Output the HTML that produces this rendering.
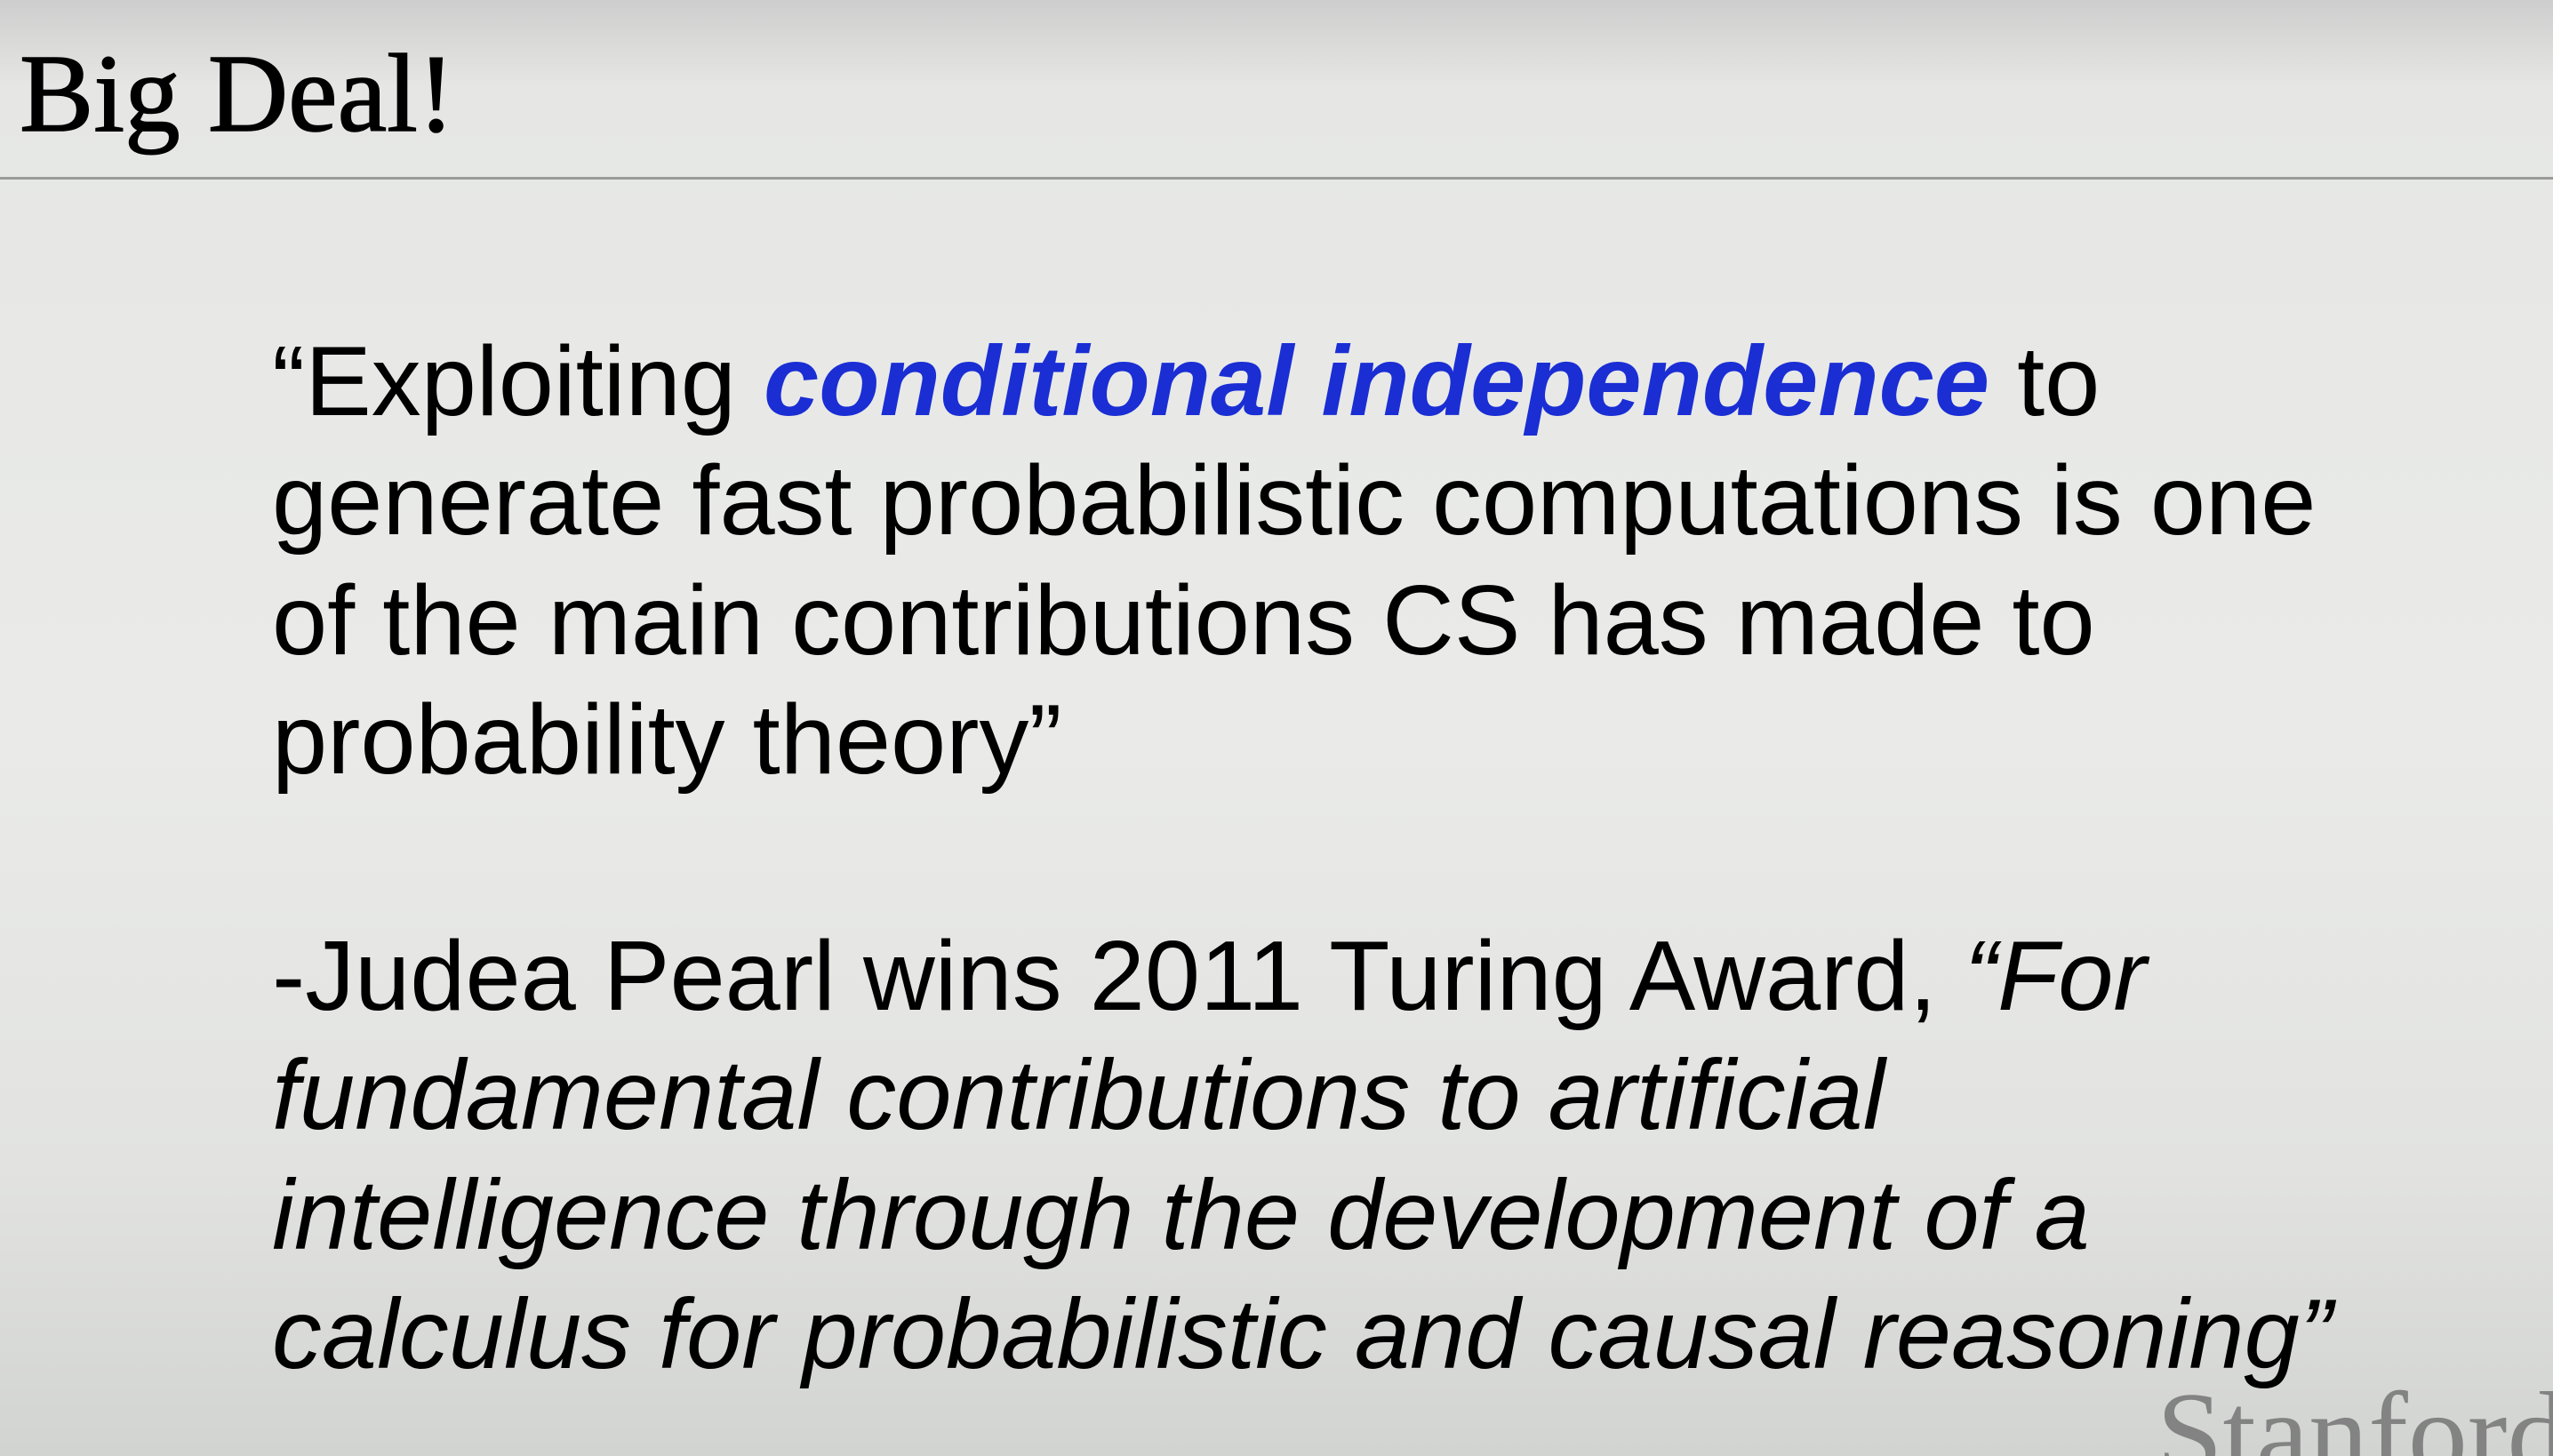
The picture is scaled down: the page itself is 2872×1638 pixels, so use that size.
<!DOCTYPE html>
<html><head><meta charset="utf-8"><style>
html,body{margin:0;padding:0;width:2872px;height:1638px;overflow:hidden;background:#e9eae8}
svg{display:block;overflow:hidden}
.b{font-family:"Liberation Sans",Arial,sans-serif;fill:#000}
</style></head><body>
<svg id="s" width="2872" height="1638" viewBox="0 0 2872 1638">
<defs>
<linearGradient id="g" x1="0" y1="0" x2="0" y2="1">
<stop offset="0" stop-color="#cdcecd"/><stop offset="0.06" stop-color="#e6e7e5"/>
<stop offset="0.5" stop-color="#eaebe9"/><stop offset="0.8" stop-color="#e2e3e1"/><stop offset="1" stop-color="#d2d4d2"/>
</linearGradient>
<clipPath id="c"><rect width="2872" height="1638"/></clipPath>
</defs>
<rect width="2872" height="1638" fill="url(#g)"/>
<text x="22" y="147" font-family="'Liberation Serif',serif" font-size="125" fill="#000" stroke="#000" stroke-width="1.5">Big Deal!</text>
<rect x="0" y="199" width="2872" height="3" fill="#9a9b9a"/>
<g id="body" class="b" font-size="100">
<text x="306" y="467">“Exploiting <tspan fill="#1a2ed4" font-weight="bold" font-style="italic">conditional independence</tspan> to</text>
<text id="ref" x="306" y="601">generate fast probabilistic computations is one</text>
<text x="306" y="736">of the main contributions CS has made to</text>
<text x="306" y="870">probability theory”</text>
<text x="306" y="1136">-Judea Pearl wins 2011 Turing Award, <tspan font-style="italic">“For</tspan></text>
<text x="306" y="1270" font-style="italic">fundamental contributions to artificial</text>
<text x="306" y="1405" font-style="italic">intelligence through the development of a</text>
<text x="306" y="1539" font-style="italic">calculus for probabilistic and causal reasoning”</text>
</g>
<g clip-path="url(#c)">
<text x="2426" y="1658" font-family="'Liberation Serif',serif" font-size="134" fill="#828382">Stanford</text>
</g>
</svg>
<script>
(function(){
var r=document.getElementById('ref');var w=r.getComputedTextLength();
if(w>0){var fs=100*2299/w;document.getElementById('body').setAttribute('font-size',fs.toFixed(1));}
})();
</script>
</body></html>
